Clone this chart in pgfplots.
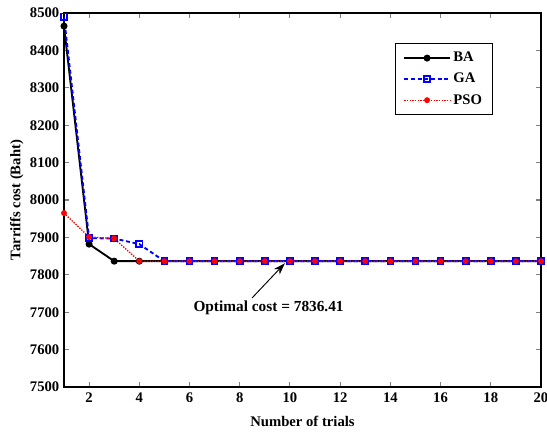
\documentclass[border=0pt]{standalone}
\usepackage{fontspec}
\setmainfont{Liberation Serif}
\usepackage{pgfplots}
\pgfplotsset{compat=1.18}
\usetikzlibrary{arrows.meta}
\begin{document}
\begin{tikzpicture}
\begin{axis}[
  name=ax,
  scale only axis,
  width=357.75pt, height=280.5pt,
  xmin=1, xmax=20, ymin=7500, ymax=8500,
  xtick={2,4,...,20},
  ytick={7500,7600,...,8500},
  tick align=inside,
  tick pos=both,
  major tick length=3.5pt,
  tick style={line width=0.8pt},
  axis line style={line width=1.3pt},
  /pgf/number format/assume math mode=true,
  /pgf/number format/1000 sep={},
  ticklabel style={font=\fontsize{11}{12}\selectfont\bfseries},
  xticklabel style={yshift=-1pt},
  xlabel={Number of trials},
  ylabel={Tarriffs cost (Baht)},
  label style={font=\fontsize{11}{12}\selectfont\bfseries},
  xlabel style={yshift=-3pt},
  ylabel style={yshift=-2pt},
  legend style={at={(0.9,0.92)}, anchor=north east, draw=black, line width=1pt,
    font=\fontsize{11}{12}\selectfont\bfseries, row sep=3pt, inner xsep=6pt, inner ysep=4.5pt},
  legend cell align=left,
  legend image code/.code={\draw[#1] (0cm,0cm) -- (1.2cm,0cm); \draw[#1, solid] plot coordinates {(0.6cm,0cm)};},
]
\addplot[black, line width=1.4pt, mark=*, mark size=1.9pt, mark options={solid}] coordinates {
(1,8465) (2,7882) (3,7836.41) (4,7836.41) (5,7836.41) (6,7836.41) (7,7836.41) (8,7836.41) (9,7836.41) (10,7836.41)
(11,7836.41) (12,7836.41) (13,7836.41) (14,7836.41) (15,7836.41) (16,7836.41) (17,7836.41) (18,7836.41) (19,7836.41) (20,7836.41)};
\addlegendentry{BA}
\addplot[blue, line width=1.4pt, dash pattern=on 3pt off 2pt, mark=square, mark size=2.3pt, mark options={solid, line width=1.2pt}] coordinates {
(1,8490) (2,7898) (3,7897) (4,7882) (5,7836.41) (6,7836.41) (7,7836.41) (8,7836.41) (9,7836.41) (10,7836.41)
(11,7836.41) (12,7836.41) (13,7836.41) (14,7836.41) (15,7836.41) (16,7836.41) (17,7836.41) (18,7836.41) (19,7836.41) (20,7836.41)};
\addlegendentry{GA}
\addplot[red, line width=1pt, dash pattern=on 1pt off 1pt, mark=*, mark size=1.7pt, mark options={solid}] coordinates {
(1,7965) (2,7901) (3,7897) (4,7836.41) (5,7836.41) (6,7836.41) (7,7836.41) (8,7836.41) (9,7836.41) (10,7836.41)
(11,7836.41) (12,7836.41) (13,7836.41) (14,7836.41) (15,7836.41) (16,7836.41) (17,7836.41) (18,7836.41) (19,7836.41) (20,7836.41)};
\addlegendentry{PSO}
\draw[-{Stealth[length=9pt,width=6pt]}, line width=0.7pt] (axis cs:8.49,7738) -- (axis cs:9.8,7831);
\node[font=\fontsize{11.5}{12}\selectfont\bfseries] at (axis cs:9.15,7711) {Optimal cost = 7836.41};
\end{axis}
\pgfresetboundingbox
\path ([shift={(-48pt,-33.75pt)}]ax.south west) rectangle ([shift={(4.5pt,9.75pt)}]ax.north east);
\end{tikzpicture}
\end{document}
